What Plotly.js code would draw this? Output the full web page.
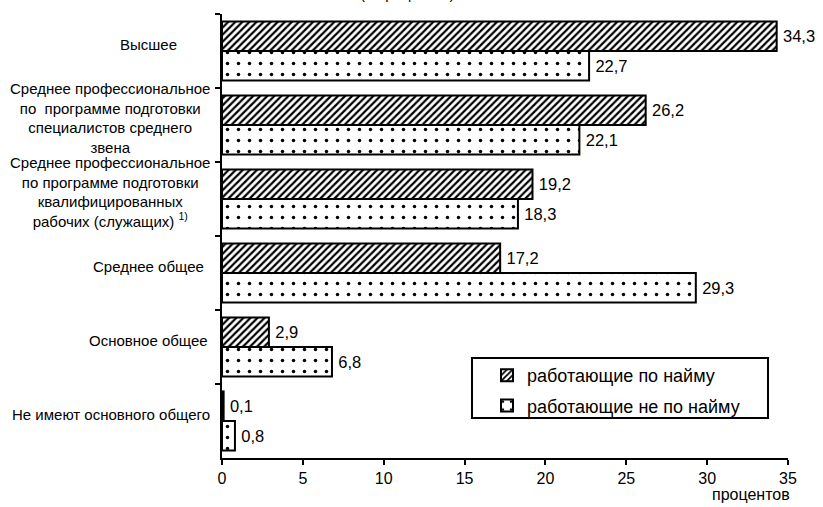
<!DOCTYPE html>
<html>
<head>
<meta charset="utf-8">
<script src="https://cdn.plot.ly/plotly-3.0.1.min.js"></script>
<style>html,body{margin:0;padding:0;background:#fff}#chart{width:823px;height:507px}</style>
</head>
<body>
<div id="chart"></div>
<script>
var categories = [
  "Высшее",
  "Среднее профессиональное<br>по  программе подготовки<br>специалистов среднего<br>звена",
  "Среднее профессиональное<br>по программе подготовки<br>квалифицированных<br>рабочих (служащих) <sup>1)</sup>",
  "Среднее общее",
  "Основное общее",
  "Не имеют основного общего"
];
var catKeys = ["c1","c2","c3","c4","c5","c6"];
var hired = [34.3, 26.2, 19.2, 17.2, 2.9, 0.1];
var notHired = [22.7, 22.1, 18.3, 29.3, 6.8, 0.8];
var seriesNames = ["работающие по найму", "работающие не по найму"];
var xTicks = [0, 5, 10, 15, 20, 25, 30, 35];

function fmt(v){ return '\u2009' + v.toFixed(1).replace('.', ','); }

var font = "Liberation Sans, Arial, sans-serif";
var plotW = 566, plotH = 444;

var traces = [
  {
    type: 'bar', orientation: 'h', name: seriesNames[0], legendgroup: 'a',
    y: catKeys, x: hired, text: hired.map(fmt), textposition: 'outside',
    textfont: {size: 16.5, color: '#000', family: font}, cliponaxis: false,
    marker: {color: '#fff', line: {color: '#000', width: 2},
      pattern: {shape: '/', fgcolor: '#000', bgcolor: '#fff', size: 5, solidity: 0.45}}
  },
  {
    type: 'bar', orientation: 'h', name: seriesNames[1], legendgroup: 'b',
    y: catKeys, x: notHired, text: notHired.map(fmt), textposition: 'outside',
    textfont: {size: 16.5, color: '#000', family: font}, cliponaxis: false,
    marker: {color: '#fff', line: {color: '#000', width: 2},
      pattern: {shape: '.', fgcolor: '#000', bgcolor: '#fff', size: 11, solidity: 0.08}}
  }
];

var longLabel = [false, true, true, false, false, true];
var annotations = catKeys.map(function(k, i){
  return {xref: 'paper', yref: 'y', x: longLabel[i] ? -10/plotW : -74/plotW, y: k, text: categories[i],
    showarrow: false, xanchor: longLabel[i] ? 'right' : 'center', yanchor: 'middle', align: 'center', yshift: 7,
    font: {size: 15, color: '#000', family: font}};
});
annotations.push({xref: 'paper', yref: 'paper', x: 0.935, y: 0, yshift: -36, xanchor: 'center', yanchor: 'middle',
  text: 'процентов', showarrow: false, font: {size: 16, color: '#000', family: font}});
annotations.push({xref: 'paper', yref: 'paper', x: 0.327, y: 1, yshift: 21, xanchor: 'center', yanchor: 'middle',
  text: '(в процентах)', showarrow: false, font: {size: 15, color: '#000', family: font}});

var layout = {
  width: 823, height: 507,
  margin: {l: 222, r: 35, t: 14, b: 49},
  paper_bgcolor: '#fff', plot_bgcolor: '#fff',
  barmode: 'group', bargap: 0.2, bargroupgap: 0,
  font: {family: font, color: '#000'},
  showlegend: true,
  legend: {x: (487-222)/plotW, y: (458-357)/plotH, xanchor: 'left', yanchor: 'top', bgcolor: 'rgba(0,0,0,0)', borderwidth: 0,
    traceorder: 'grouped', tracegroupgap: 4, font: {size: 18, color: '#000', family: font}},
  xaxis: {range: [0, 35], tickvals: xTicks, ticktext: xTicks.map(String), ticks: 'outside', ticklen: 5, tickwidth: 2,
    tickcolor: '#000', showline: true, linecolor: '#000', linewidth: 2, showgrid: false, zeroline: false,
    tickfont: {size: 16, color: '#000', family: font}},
  yaxis: {type: 'category', categoryorder: 'array', categoryarray: catKeys, autorange: 'reversed',
    showticklabels: false, ticks: 'outside', tickson: 'boundaries', ticklen: 5, tickwidth: 2, tickcolor: '#000',
    showline: true, linecolor: '#000', linewidth: 2, showgrid: false, zeroline: false},
  annotations: annotations,
  shapes: [{type: 'rect', xref: 'paper', yref: 'paper', x0: (472-222)/plotW, x1: (768-222)/plotW,
    y0: (458-418)/plotH, y1: (458-358)/plotH, line: {color: '#000', width: 2}, fillcolor: 'rgba(0,0,0,0)'}]
};

Plotly.newPlot('chart', traces, layout, {displayModeBar: false, staticPlot: true});
</script>
</body>
</html>
